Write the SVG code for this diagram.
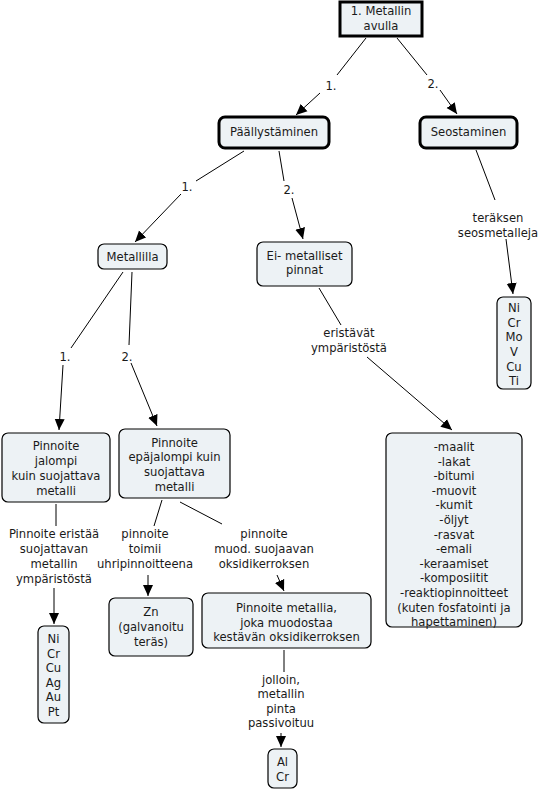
<svg xmlns="http://www.w3.org/2000/svg" width="545" height="791" viewBox="0 0 545 791">
<defs>
<style>
text{font-family:"DejaVu Sans","Verdana",sans-serif;font-size:11.6px;fill:#1a1a1a;text-anchor:middle}
.box{fill:#edf2f5;stroke:#000;stroke-width:1.2}
.thick{stroke-width:3}
.c line{stroke:#000;stroke-width:1}
.c .a{marker-end:url(#ah)}
</style>
<marker id="ah" markerUnits="userSpaceOnUse" markerWidth="12" markerHeight="11" refX="11" refY="5" orient="auto" viewBox="0 0 12 10">
<path d="M0,0 L11,5 L0,10 z" fill="#000"/>
</marker>
</defs>
<rect width="545" height="791" fill="#fff"/>
<g id="connectors" class="c">
<line x1="366" y1="38" x2="337" y2="75"/>
<line class="a" x1="320" y1="93" x2="296" y2="115"/>
<text x="331" y="90">1.</text>
<line x1="397" y1="38" x2="427" y2="75"/>
<line class="a" x1="440" y1="90" x2="457" y2="114"/>
<text x="433" y="88">2.</text>
<line x1="244" y1="151" x2="196" y2="181"/>
<line class="a" x1="181" y1="194" x2="135" y2="242"/>
<text x="187" y="191">1.</text>
<line x1="279" y1="151" x2="284" y2="181"/>
<line class="a" x1="292" y1="198" x2="303" y2="239"/>
<text x="289" y="194">2.</text>
<line x1="476" y1="150" x2="495" y2="200"/>
<line class="a" x1="506" y1="239" x2="513" y2="294"/>
<text x="498" y="222">teräksen</text>
<text x="498" y="237">seosmetalleja</text>
<line x1="123" y1="272" x2="71" y2="348"/>
<line class="a" x1="63" y1="365" x2="59" y2="430"/>
<text x="65" y="361">1.</text>
<line x1="132" y1="272" x2="129" y2="345"/>
<line class="a" x1="131" y1="363" x2="157" y2="426"/>
<text x="127" y="361">2.</text>
<line x1="319" y1="288" x2="341" y2="325"/>
<line class="a" x1="367" y1="357" x2="452" y2="430"/>
<text x="349" y="337">eristävät</text>
<text x="349" y="352">ympäristöstä</text>
<line x1="56" y1="504" x2="56" y2="526"/>
<line class="a" x1="54" y1="588" x2="54" y2="624"/>
<text x="54" y="538">Pinnoite eristää</text>
<text x="54" y="553">suojattavan</text>
<text x="54" y="568">metallin</text>
<text x="54" y="583">ympäristöstä</text>
<line x1="162" y1="500" x2="154" y2="526"/>
<line class="a" x1="148" y1="575" x2="148" y2="596"/>
<text x="145" y="538">pinnoite</text>
<text x="145" y="553">toimii</text>
<text x="145" y="568">uhripinnoitteena</text>
<line x1="180" y1="502" x2="222" y2="524"/>
<line class="a" x1="277" y1="575" x2="284" y2="591"/>
<text x="264" y="538">pinnoite</text>
<text x="264" y="553">muod. suojaavan</text>
<text x="264" y="568">oksidikerroksen</text>
<line x1="284" y1="650" x2="284" y2="672"/>
<line class="a" x1="281" y1="733" x2="281" y2="747"/>
<text x="281" y="684">jolloin,</text>
<text x="281" y="698">metallin</text>
<text x="281" y="713">pinta</text>
<text x="281" y="727">passivoituu</text>
</g>
<g id="n1">
<rect class="box thick" x="340" y="2" width="82" height="34"/>
<text x="381" y="15">1. Metallin</text>
<text x="381" y="30">avulla</text>
</g>
<g id="n2">
<rect class="box thick" x="219" y="117" width="110" height="31" rx="6"/>
<text x="274" y="136">Päällystäminen</text>
</g>
<g id="n3">
<rect class="box thick" x="420" y="117" width="97" height="31" rx="6"/>
<text x="468.5" y="136">Seostaminen</text>
</g>
<g id="n4">
<rect class="box" x="98" y="244" width="69" height="25" rx="6"/>
<text x="132.5" y="261">Metallilla</text>
</g>
<g id="n5">
<rect class="box" x="257" y="242" width="95" height="44" rx="6"/>
<text x="304.5" y="260">Ei- metalliset</text>
<text x="304.5" y="274">pinnat</text>
</g>
<g id="n6">
<rect class="box" x="497" y="297" width="34" height="92" rx="6"/>
<text x="514" y="312">Ni</text>
<text x="514" y="326.5">Cr</text>
<text x="514" y="341">Mo</text>
<text x="514" y="356">V</text>
<text x="514" y="370.5">Cu</text>
<text x="514" y="385">Ti</text>
</g>
<g id="n7">
<rect class="box" x="2" y="433" width="108" height="69" rx="6"/>
<text x="56" y="450">Pinnoite</text>
<text x="56" y="465">jalompi</text>
<text x="56" y="480">kuin suojattava</text>
<text x="56" y="495">metalli</text>
</g>
<g id="n8">
<rect class="box" x="119" y="429" width="111" height="69" rx="6"/>
<text x="174.5" y="447">Pinnoite</text>
<text x="174.5" y="461">epäjalompi kuin</text>
<text x="174.5" y="476">suojattava</text>
<text x="174.5" y="491">metalli</text>
</g>
<g id="n9">
<rect class="box" x="386" y="433" width="136" height="194" rx="6"/>
<text x="454" y="451">-maalit</text>
<text x="454" y="465.6">-lakat</text>
<text x="454" y="480.2">-bitumi</text>
<text x="454" y="494.8">-muovit</text>
<text x="454" y="509.4">-kumit</text>
<text x="454" y="524">-öljyt</text>
<text x="454" y="538.6">-rasvat</text>
<text x="454" y="553.2">-emali</text>
<text x="454" y="567.8">-keraamiset</text>
<text x="454" y="582.4">-komposiitit</text>
<text x="454" y="597">-reaktiopinnoitteet</text>
<text x="454" y="611.6">(kuten fosfatointi ja</text>
<text x="454" y="626.2">hapettaminen)</text>
</g>
<g id="n10">
<rect class="box" x="38" y="626" width="31" height="97" rx="6"/>
<text x="53.5" y="643">Ni</text>
<text x="53.5" y="657.5">Cr</text>
<text x="53.5" y="672">Cu</text>
<text x="53.5" y="686.5">Ag</text>
<text x="53.5" y="701">Au</text>
<text x="53.5" y="715.5">Pt</text>
</g>
<g id="n11">
<rect class="box" x="109" y="598" width="84" height="58" rx="6"/>
<text x="151" y="616">Zn</text>
<text x="151" y="631">(galvanoitu</text>
<text x="151" y="646">teräs)</text>
</g>
<g id="n12">
<rect class="box" x="202" y="593" width="169" height="55" rx="6"/>
<text x="286.5" y="612">Pinnoite metallia,</text>
<text x="286.5" y="627">joka muodostaa</text>
<text x="286.5" y="641">kestävän oksidikerroksen</text>
</g>
<g id="n13">
<rect class="box" x="268" y="749" width="29" height="39" rx="6"/>
<text x="282.5" y="766">Al</text>
<text x="282.5" y="781">Cr</text>
</g>
</svg>
